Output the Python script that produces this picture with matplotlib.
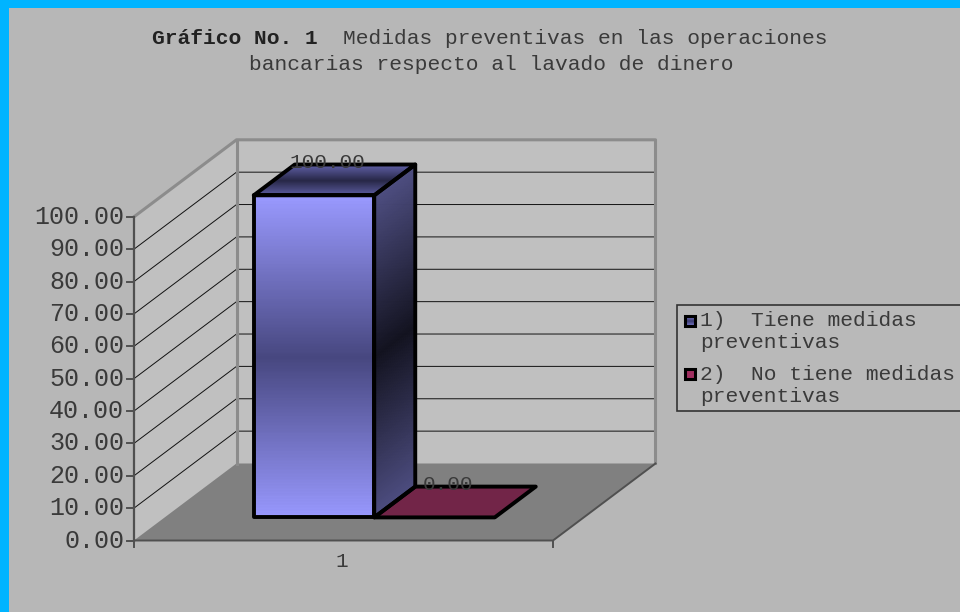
import numpy as np
import matplotlib
matplotlib.use('Agg')
import matplotlib.pyplot as plt
from matplotlib.collections import PolyCollection
from matplotlib.colors import LinearSegmentedColormap
from matplotlib.patches import Polygon, Rectangle

# Data
values = [100.00, 0.00]
value_labels = ['100.00', '0.00']
yticks = [0, 10, 20, 30, 40, 50, 60, 70, 80, 90, 100]
category = '1'
legend_lines = [['1)  Tiene medidas', 'preventivas'], ['2)  No tiene medidas', 'preventivas']]
title_bold = 'Gráfico No. 1'
title_rest = 'Medidas preventivas en las operaciones'
title_line2 = 'bancarias respecto al lavado de dinero'

MONO = 'Liberation Mono'
TEXT = '#3A3A3A'


def project(cx, depth, val):
    # oblique view of the chart box: category position, depth, value -> pixels
    return (134 + 419 * cx + 102.5 * depth, 540.5 - 3.237 * val - 77 * depth)


def gradient(ax, corners, stops, zorder=3, n=220):
    # corners go p0, p1 (start edge), p2, p3 (end edge)
    cmap = LinearSegmentedColormap.from_list('g', stops)
    p0, p1, p2, p3 = [np.array(c, dtype=float) for c in corners]
    ts = np.linspace(0, 1, n + 1)
    strips = []
    for a, b in zip(ts[:-1], ts[1:]):
        strips.append([p0 + (p3 - p0) * a, p1 + (p2 - p1) * a, p1 + (p2 - p1) * b, p0 + (p3 - p0) * b])
    colors = [cmap((a + b) / 2) for a, b in zip(ts[:-1], ts[1:])]
    ax.add_collection(PolyCollection(strips, facecolors=colors, edgecolors=colors, linewidths=0.6, zorder=zorder))


fig = plt.figure(figsize=(9.6, 6.12), dpi=100, facecolor='#00B4FF')
ax = fig.add_axes([0, 0, 1, 1])
ax.set_xlim(0, 960)
ax.set_ylim(612, 0)
ax.axis('off')

# Grey panel inside the blue border
ax.add_patch(Rectangle((9, 8), 960, 620, facecolor='#B7B7B7', edgecolor='none', zorder=0))

# Walls and floor
wall = '#C0C0C0'
ax.add_patch(Polygon([project(0, 0, 0), project(0, 1, 0), project(0, 1, 100), project(0, 0, 100)], facecolor=wall, edgecolor='none', zorder=1))
ax.add_patch(Polygon([project(0, 1, 0), project(1, 1, 0), project(1, 1, 100), project(0, 1, 100)], facecolor=wall, edgecolor='none', zorder=1))
ax.add_patch(Polygon([project(0, 0, 0), project(1, 0, 0), project(1, 1, 0), project(0, 1, 0)], facecolor='#808080', edgecolor='none', zorder=1))

# Gridlines
for t in yticks[1:-1]:
    a, b, c = project(0, 0, t), project(0, 1, t), project(1, 1, t)
    ax.plot([a[0], b[0], c[0]], [a[1], b[1], c[1]], color='#111111', lw=0.7, zorder=2)

# Wall outlines
edge = '#8C8C8C'
a, b, c, d = project(0, 0, 100), project(0, 1, 100), project(1, 1, 100), project(1, 1, 0)
ax.plot([a[0], b[0], c[0], d[0]], [a[1], b[1], c[1], d[1]], color=edge, lw=2.2, zorder=2)
b0 = project(0, 1, 0)
ax.plot([b[0], b0[0]], [b[1], b0[1]], color=edge, lw=2.2, zorder=2)

# Axis lines and ticks
axis_col = '#505050'
p0, p1 = project(0, 0, 0), project(0, 0, 100)
ax.plot([p0[0], p1[0]], [p0[1], p1[1]], color=axis_col, lw=1.6, zorder=4)
q0, q1, q2 = project(0, 0, 0), project(1, 0, 0), project(1, 1, 0)
ax.plot([q0[0], q1[0], q2[0]], [q0[1], q1[1], q2[1]], color=axis_col, lw=1.4, zorder=4)
ax.plot([q0[0], q0[0]], [q0[1], q0[1] + 6], color=axis_col, lw=1.4, zorder=4)
ax.plot([q1[0], q1[0]], [q1[1], q1[1] + 6], color=axis_col, lw=1.4, zorder=4)
for t in yticks:
    x, y = project(0, 0, t)
    ax.plot([x - 7, x], [y, y], color=axis_col, lw=1.4, zorder=4)
    ax.text(x - 10, y, f'{t:.2f}', ha='right', va='center', family=MONO, fontsize=18, color=TEXT, zorder=6)

# Bars
d0, d1 = 0.3, 0.7
edges = [0.2124, 0.5, 0.7876]
bar_scale = 0.995

# first bar: graded faces
h = values[0] * bar_scale
front = [project(edges[0], d0, 0), project(edges[1], d0, 0), project(edges[1], d0, h), project(edges[0], d0, h)]
side = [project(edges[1], d0, 0), project(edges[1], d1, 0), project(edges[1], d1, h), project(edges[1], d0, h)]
top = [project(edges[0], d0, h), project(edges[1], d0, h), project(edges[1], d1, h), project(edges[0], d1, h)]
gradient(ax, front, ['#9999FF', '#47477F', '#9999FF'])
gradient(ax, side, ['#4D4D80', '#12121F', '#4D4D80'])
gradient(ax, top, ['#5F5FA5', '#282848', '#5F5FA5'])
for face in (front, side, top):
    ax.add_patch(Polygon(face, facecolor='none', edgecolor='black', lw=2.8, joinstyle='round', zorder=4))

# second bar: flat at zero height
h2 = values[1] * bar_scale
flat = [project(edges[1], d0, h2), project(edges[2], d0, h2), project(edges[2], d1, h2), project(edges[1], d1, h2)]
ax.add_patch(Polygon(flat, facecolor='#722548', edgecolor='black', lw=2.8, joinstyle='round', zorder=3))

# Value labels sit on the back edge of each bar top
label_x = [(edges[0] + edges[1]) / 2, (edges[1] + edges[2]) / 2]
for cx, v, lab in zip(label_x, values, value_labels):
    x, y = project(cx, d1, v * bar_scale)
    ax.text(x - 27.5, y - 2, lab, ha='center', va='center', family=MONO, fontsize=15.2, color=TEXT, zorder=6)

# Category label
x, y = project(0.5, 0, 0)
ax.text(x - 2, y + 21, category, ha='center', va='center', family=MONO, fontsize=15.2, color=TEXT, zorder=6)

# Title
ax.text(152.5, 38.5, title_bold, ha='left', va='center', family=MONO, weight='bold', fontsize=15.3, color='#222222')
ax.text(343, 38.5, title_rest, ha='left', va='center', family=MONO, fontsize=15.3, color=TEXT)
ax.text(491, 65, title_line2, ha='center', va='center', family=MONO, fontsize=15.3, color=TEXT)

# Legend
ax.add_patch(Rectangle((677, 305), 300, 106, facecolor='#B9B9B9', edgecolor='#333333', lw=1.2, zorder=5))
legend_swatch_y = [321, 373.5]
legend_text_y = [[321, 343], [374, 396]]
for i, (ly, lines) in enumerate(zip(legend_swatch_y, legend_lines)):
    corners = [(684.5, ly - 5), (694.5, ly - 5), (694.5, ly + 5), (684.5, ly + 5)]
    if i == 0:
        gradient(ax, corners, ['#7C7CD0', '#3C3C70', '#7C7CD0'], zorder=6, n=10)
    else:
        ax.add_patch(Polygon(corners, facecolor='#A02F60', edgecolor='none', zorder=6))
    ax.add_patch(Polygon(corners, facecolor='none', edgecolor='black', lw=2.2, zorder=7))
    for ty, line in zip(legend_text_y[i], lines):
        ax.text(700, ty, line, ha='left', va='center', family=MONO, fontsize=15.3, color=TEXT, zorder=7)

fig.savefig('out.png', dpi=100, facecolor=fig.get_facecolor())
